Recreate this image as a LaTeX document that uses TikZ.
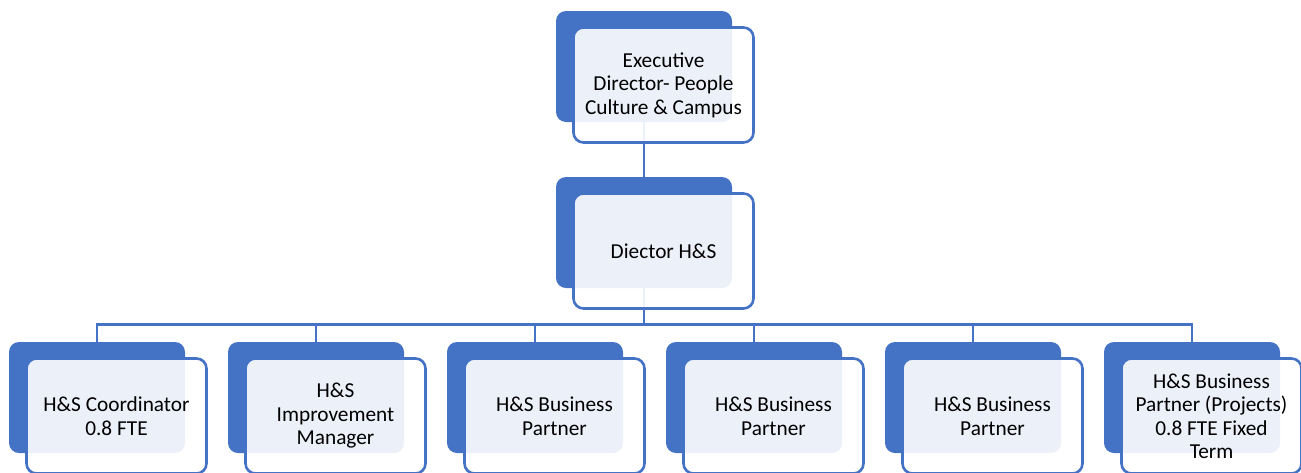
\documentclass[tikz,border=0pt]{standalone}
\usepackage{fontspec}
\setmainfont{Carlito}
\usetikzlibrary{positioning}
\definecolor{hsblue}{HTML}{4472C4}
\tikzset{
  back/.style={rectangle, rounded corners=10pt, fill=hsblue, draw=none,
    minimum width=176pt, minimum height=111pt, inner sep=0pt},
  front/.style={rectangle, rounded corners=10pt, draw=hsblue, line width=2.6pt,
    fill=white, fill opacity=0.9, text opacity=1,
    minimum width=180pt, minimum height=115pt, inner sep=0pt, align=center,
    font=\fontsize{21.3}{23.5}\selectfont},
  link/.style={draw=hsblue, line width=2.6pt}
}
\begin{document}
\begin{tikzpicture}[node distance=166pt,on grid]
                \clip (0,0) rectangle (1301pt,-472pt);
                \useasboundingbox (0,0) rectangle (1301pt,-472pt);
                % back boxes
                \node[back] (ed) at (644pt,-66.5pt) {};
                \node[back] [below=of ed] (dhs) {};
                \node[back] at (97pt,-397.5pt) (hs1) {};
                \foreach \n [count=\p from 1] in {2,...,6}
                        \node[back] [right=219pt of hs\p] (hs\n) {};
                % connectors
                \draw[link] (ed.south) -- (dhs.north);
                \coordinate[below=36pt of dhs.south] (bus);
                \foreach \n in {1,...,6}
                        \draw[link] (dhs.south) -- (bus) -| (hs\n.north);
                % front boxes
                \node[front] [below right=18.5pt and 19.5pt of ed] (edf)
                        {Executive\\Director- People\\Culture \& Campus};
                \node[front] [below right=18.5pt and 19.5pt of dhs] (dhsf)
                        {Diector H\&S};
                \node[front] [below right=18.5pt and 19.5pt of hs1] (hs1f)
                        {H\&S Coordinator\\0.8 FTE};
                \node[front] [below right=18.5pt and 19.5pt of hs2] (hs2f)
                        {H\&S\\Improvement\\Manager};
                \node[front] [below right=18.5pt and 19.5pt of hs3] (hs3f)
                        {H\&S Business\\Partner};
                \node[front] [below right=18.5pt and 19.5pt of hs4] (hs4f)
                        {H\&S Business\\Partner};
                \node[front] [below right=18.5pt and 19.5pt of hs5] (hs5f)
                        {H\&S Business\\Partner};
                \node[front] [below right=18.5pt and 19.5pt of hs6] (hs6f)
                        {H\&S Business\\Partner (Projects)\\0.8 FTE Fixed\\Term};
\end{tikzpicture}
\end{document}
